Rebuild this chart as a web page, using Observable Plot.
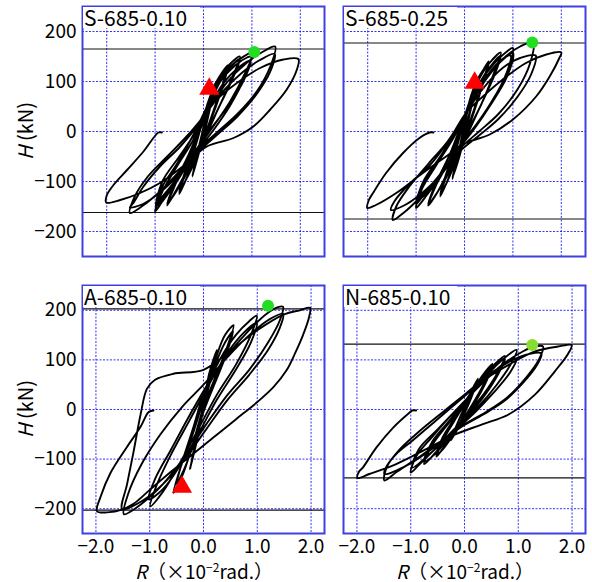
<!DOCTYPE html>
<html><head><meta charset="utf-8">
<script src="https://cdn.jsdelivr.net/npm/d3@7"></script>
<script src="https://cdn.jsdelivr.net/npm/@observablehq/plot@0.6"></script>
<style>
body{margin:0;background:#fff;font-family:"Noto Sans CJK JP","Noto Sans",sans-serif;color:#000}
#wrap{position:relative;width:592px;height:582px;overflow:hidden}
.pn{position:absolute}
.tag{position:absolute;background:#fff;font-size:21px;line-height:21px;height:21px;padding-left:1px;white-space:nowrap}
.ylab{position:absolute;font-size:20px;white-space:nowrap;transform:translate(-50%,-50%) rotate(-90deg)}
.xlab{position:absolute;font-size:19px;white-space:nowrap;transform:translate(-50%,-50%)}
.xlab sup{font-size:12px;vertical-align:7px;line-height:0}
</style></head><body><div id="wrap"></div>
<script>
// tick values
const xTicks = [-2, -1, 0, 1, 2];
const yTicks = [-200, -100, 0, 100, 200];
const panelNames = ["S-685-0.10", "S-685-0.25", "A-685-0.10", "N-685-0.10"];

// hysteresis paths [R (x10^-2 rad), H (kN)]
const loopS010 = [
[0,0],[0.1,55],[0.22,92],
[0.12,45],[0,-5],[-0.12,-50],[-0.23,-88],
[-0.12,-40],[0,8],[0.12,60],[0.23,95],
[0.12,40],[0,-10],[-0.12,-52],[-0.23,-90],
[-0.1,-35],[0.05,30],[0.22,90],[0.4,120],[0.5,132],
[0.38,90],[0.2,40],[0,-15],[-0.2,-60],[-0.38,-100],[-0.5,-125],
[-0.38,-85],[-0.2,-40],[0,25],[0.2,78],[0.38,112],[0.5,128],
[0.38,85],[0.2,35],[0,-20],[-0.2,-65],[-0.38,-100],[-0.5,-122],
[-0.38,-80],[-0.2,-35],[0,30],[0.2,85],[0.45,125],[0.75,150],
[0.6,110],[0.35,55],[0,-15],[-0.3,-70],[-0.55,-115],[-0.75,-148],
[-0.6,-110],[-0.3,-50],[0,20],[0.25,82],[0.5,122],[0.75,145],
[0.6,105],[0.3,45],[0,-20],[-0.3,-75],[-0.55,-118],[-0.75,-145],
[-0.6,-105],[-0.3,-45],[0,25],[0.2,80],[0.45,120],[0.75,145],[1.02,158],
[0.85,115],[0.55,60],[0.2,10],[-0.2,-45],[-0.55,-100],[-0.85,-140],[-1.0,-160],
[-0.85,-120],[-0.55,-70],[-0.2,-15],[0.1,45],[0.4,95],[0.75,130],[0.97,142],
[0.82,100],[0.5,50],[0.15,5],[-0.25,-50],[-0.6,-100],[-0.85,-130],[-0.97,-143],
[-0.85,-110],[-0.55,-65],[-0.2,-5],[0.1,55],[0.35,100],[0.65,132],[0.9,148],[0.98,150],
[0.85,108],[0.55,52],[0.2,2],[-0.2,-48],[-0.55,-98],[-0.85,-135],[-0.98,-150],
[-0.85,-100],[-0.5,-50],[-0.15,0],[0.15,50],[0.5,100],[0.9,138],[1.2,158],[1.48,170],
[1.38,130],[1.1,80],[0.7,35],[0.3,0],[-0.1,-35],[-0.5,-80],[-0.9,-120],[-1.25,-148],[-1.52,-163],
[-1.42,-130],[-1.15,-90],[-0.75,-50],[-0.35,-10],[0,30],[0.4,80],[0.8,118],[1.15,142],[1.47,155],
[1.38,120],[1.1,75],[0.7,30],[0.3,-5],[-0.1,-40],[-0.5,-85],[-0.9,-122],[-1.25,-145],[-1.52,-152],
[-1.45,-143],[-1.24,-110],[-0.9,-70],[-0.48,-30],[-0.14,10],[0.07,44],[0.34,70],[0.69,97],[1.17,127],[1.65,144],[1.96,145],
[1.93,124],[1.72,84],[1.38,44],[1.03,10],[0.62,-13],[0.07,-30],[-0.34,-63],[-0.9,-103],[-1.31,-123],[-1.72,-137],[-2.01,-142],
[-2.0,-128],[-1.86,-107],[-1.58,-77],[-1.24,-40],[-0.93,-2],[-0.86,-2]
];
const loopS025 = [
[0,0],[0.1,60],[0.25,100],
[0.12,45],[0,-5],[-0.12,-50],[-0.25,-95],
[-0.12,-40],[0,15],[0.12,65],[0.25,100],
[0.12,40],[0,-10],[-0.12,-55],[-0.25,-92],
[-0.1,-35],[0.05,35],[0.22,95],[0.4,125],[0.5,140],
[0.38,100],[0.2,45],[0,-10],[-0.2,-60],[-0.38,-105],[-0.5,-130],
[-0.38,-90],[-0.2,-45],[0,25],[0.2,82],[0.38,120],[0.5,136],
[0.38,95],[0.2,40],[0,-15],[-0.2,-65],[-0.38,-105],[-0.5,-127],
[-0.38,-85],[-0.2,-40],[0,30],[0.25,95],[0.5,135],[0.75,158],
[0.6,115],[0.35,55],[0,-12],[-0.3,-72],[-0.55,-120],[-0.75,-148],
[-0.6,-110],[-0.3,-55],[0,25],[0.3,95],[0.55,132],[0.75,152],
[0.6,108],[0.3,45],[0,-18],[-0.3,-78],[-0.55,-120],[-0.75,-145],
[-0.6,-105],[-0.3,-45],[0,30],[0.3,95],[0.6,135],[0.85,158],[1.0,167],
[0.88,120],[0.6,65],[0.25,15],[-0.15,-35],[-0.5,-90],[-0.8,-130],[-1.0,-153],
[-0.88,-115],[-0.6,-70],[-0.25,-15],[0.1,50],[0.45,105],[0.75,140],[1.0,157],
[0.88,110],[0.55,55],[0.2,5],[-0.2,-45],[-0.55,-95],[-0.8,-125],[-0.96,-137],
[-0.85,-105],[-0.55,-62],[-0.2,-8],[0.1,52],[0.4,102],[0.7,138],[0.95,152],
[0.85,112],[0.55,58],[0.2,8],[-0.2,-42],[-0.55,-92],[-0.85,-128],[-1.0,-145],
[-0.85,-100],[-0.5,-50],[-0.15,5],[0.15,60],[0.5,112],[0.85,150],[1.15,170],[1.42,178],
[1.35,135],[1.1,85],[0.7,35],[0.3,0],[-0.1,-35],[-0.5,-85],[-0.9,-130],[-1.25,-162],[-1.48,-177],
[-1.41,-150],[-1.14,-110],[-0.75,-65],[-0.35,-20],[0,32],[0.4,88],[0.8,128],[1.15,147],[1.47,152],
[1.38,115],[1.1,70],[0.7,25],[0.3,-8],[-0.1,-40],[-0.5,-88],[-0.9,-125],[-1.25,-148],[-1.52,-157],
[-1.45,-140],[-1.14,-105],[-0.72,-68],[-0.31,-16],[0.03,37],[0.38,70],[0.79,104],[1.27,137],[1.69,154],[2.0,158],
[1.96,147],[1.76,110],[1.48,70],[1.0,24],[0.52,-6],[0.03,-23],[-0.38,-50],[-0.86,-83],[-1.41,-123],[-1.83,-147],[-2.01,-153],
[-1.98,-138],[-1.89,-123],[-1.62,-83],[-1.27,-43],[-0.93,-13],[-0.72,-2],[-0.64,-2]
];
const loopA010 = [
[0,0],[0.1,70],[0.25,120],
[0.12,60],[0,10],[-0.12,-60],[-0.25,-120],
[-0.12,-55],[0,0],[0.12,65],[0.25,118],
[0.12,55],[0,5],[-0.12,-62],[-0.25,-118],
[-0.1,-40],[0.05,35],[0.25,110],[0.4,150],[0.56,170],
[0.42,120],[0.2,60],[0,5],[-0.2,-70],[-0.4,-135],[-0.56,-168],
[-0.42,-115],[-0.2,-50],[0,20],[0.2,85],[0.4,135],[0.55,158],
[0.42,110],[0.2,50],[0,-5],[-0.2,-75],[-0.4,-130],[-0.5,-150],
[-0.38,-100],[-0.2,-40],[0,30],[0.3,100],[0.6,150],[0.85,178],[0.99,189],
[0.88,150],[0.6,90],[0.25,30],[-0.1,-40],[-0.45,-110],[-0.75,-165],[-0.99,-195],
[-0.88,-155],[-0.6,-90],[-0.25,-20],[0.1,50],[0.45,115],[0.75,155],[0.99,175],
[0.88,135],[0.6,80],[0.25,20],[-0.1,-50],[-0.45,-115],[-0.75,-160],[-1.02,-181],
[-0.9,-140],[-0.6,-80],[-0.25,-10],[0.1,55],[0.45,110],[0.85,160],[1.2,195],[1.4,207],[1.48,207],
[1.42,180],[1.2,135],[0.85,80],[0.45,30],[0.05,-30],[-0.35,-95],[-0.75,-150],[-1.15,-190],[-1.48,-211],
[-1.4,-170],[-1.15,-110],[-0.8,-50],[-0.4,5],[0,50],[0.4,100],[0.8,145],[1.2,180],[1.48,193],
[1.42,165],[1.2,120],[0.85,70],[0.45,20],[0.05,-40],[-0.35,-100],[-0.75,-150],[-1.15,-185],[-1.51,-201],
[-1.42,-150],[-1.3,-85],[-1.17,-10],[-1.05,42],[-0.9,60],[-0.56,72],[0,80],[0.5,118],[1.0,160],[1.5,192],[1.79,200],[1.98,205],
[1.96,185],[1.85,150],[1.71,115],[1.55,80],[1.3,45],[1.0,15],[0.6,-20],[0.2,-55],[-0.2,-90],[-0.6,-125],[-1.0,-162],[-1.3,-190],[-1.55,-203],[-1.75,-207],[-1.98,-205],
[-1.91,-175],[-1.73,-128],[-1.42,-75],[-1.17,-35],[-1.02,-5],[-0.93,-2]
];
const loopN010 = [
[0,0],[0.1,30],[0.25,60],
[0.12,25],[0,-5],[-0.12,-35],[-0.25,-62],
[-0.12,-25],[0,5],[0.12,35],[0.25,62],
[0.12,22],[0,-8],[-0.12,-38],[-0.25,-60],
[-0.1,-20],[0.05,15],[0.25,55],[0.4,78],[0.52,92],
[0.4,60],[0.2,20],[0,-15],[-0.2,-45],[-0.4,-78],[-0.52,-95],
[-0.4,-62],[-0.2,-25],[0,10],[0.2,45],[0.4,75],[0.52,88],
[0.4,55],[0.2,15],[0,-18],[-0.2,-50],[-0.4,-80],[-0.52,-92],
[-0.4,-55],[-0.2,-20],[0,15],[0.3,60],[0.55,90],[0.75,108],
[0.62,75],[0.35,30],[0,-15],[-0.3,-55],[-0.55,-88],[-0.75,-110],
[-0.62,-75],[-0.35,-35],[0,10],[0.3,55],[0.55,85],[0.75,102],
[0.62,70],[0.35,25],[0,-20],[-0.3,-58],[-0.55,-90],[-0.75,-105],
[-0.6,-65],[-0.3,-25],[0,15],[0.35,60],[0.7,100],[0.97,120],
[0.88,95],[0.6,50],[0.25,5],[-0.15,-35],[-0.55,-80],[-0.85,-112],[-1.0,-127],
[-0.9,-95],[-0.6,-55],[-0.25,-12],[0.1,28],[0.5,70],[0.8,95],[0.97,103],
[0.85,75],[0.55,35],[0.2,-5],[-0.2,-45],[-0.6,-85],[-0.97,-117],
[-0.85,-80],[-0.5,-40],[-0.1,5],[0.3,50],[0.7,90],[1.1,118],[1.3,127],[1.46,127],
[1.38,100],[1.15,65],[0.8,25],[0.4,-5],[0,-30],[-0.45,-65],[-0.9,-100],[-1.25,-125],[-1.49,-143],
[-1.44,-115],[-1.2,-80],[-0.85,-45],[-0.4,-5],[0,30],[0.45,70],[0.9,100],[1.2,112],[1.43,113],
[1.35,90],[1.1,55],[0.75,18],[0.35,-10],[-0.1,-38],[-0.55,-75],[-0.95,-105],[-1.25,-122],[-1.49,-130],
[-1.46,-117],[-1.27,-90],[-0.97,-63],[-0.54,-23],[-0.04,23],[0.33,57],[0.82,90],[1.31,117],[1.74,127],[1.99,130],
[1.93,113],[1.68,77],[1.31,30],[0.82,-10],[0.33,-30],[-0.17,-50],[-0.66,-77],[-1.27,-110],[-1.77,-130],[-1.99,-138],
[-1.96,-125],[-1.89,-117],[-1.64,-77],[-1.33,-37],[-1.03,-7],[-0.97,-2],[-0.9,-2]
];

// max-strength reference lines (kN)
const refS010 = [165, -162];
const refS025 = [177, -175];
const refA010 = [203, -203];
const refN010 = [132, -138];
// markers [R, H]
const greenS010 = [[1.05, 159]];
const greenS025 = [[1.40, 178]];
const greenA010 = [[1.20, 209]];
const greenN010 = [[1.26, 130]];
const redS010 = [[0.12, 85]];
const redS025 = [[0.21, 97]];
const redA010 = [[-0.40, -156]];
const redN010 = [];

const wrap = document.getElementById("wrap");
const fmtX = d3.format(".1f");

function panel(o) {
  const svg = Plot.plot({
    width: o.w, height: o.h,
    marginLeft: o.ml, marginRight: o.mr, marginTop: 6, marginBottom: o.mb,
    style: {fontFamily: '"Noto Sans CJK JP","Noto Sans",sans-serif', fontSize: "19px", color: "#000", background: "transparent", overflow: "visible"},
    x: {domain: o.xdom, ticks: xTicks, tickFormat: fmtX, axis: o.showX ? "bottom" : null, tickSize: 0, tickPadding: 6, label: null},
    y: {domain: [-250, 250], ticks: yTicks, axis: o.showY ? "left" : null, tickSize: 0, tickPadding: 6, label: null},
    marks: [
      Plot.gridX(xTicks, {stroke: "#1010f0", strokeOpacity: 0.85, strokeWidth: 1, strokeDasharray: "2,1.5"}),
      Plot.gridY(yTicks, {stroke: "#1010f0", strokeOpacity: 0.85, strokeWidth: 1, strokeDasharray: "2,1.5"}),
      Plot.ruleY(o.ref, {stroke: "#111", strokeWidth: 1.2}),
      Plot.line(o.loop, {x: d => d[0], y: d => d[1], curve: "catmull-rom", stroke: "#000", strokeWidth: 1.9}),
      Plot.dot(o.green, {x: d => d[0], y: d => d[1], r: 6, fill: o.gcol, stroke: null}),
      Plot.dot(o.red, {x: d => d[0], y: d => d[1], r: 7.5, symbol: "triangle", fill: "#ff0000", stroke: null}),
      Plot.frame({stroke: "#4040e0", strokeWidth: 2})
    ]
  });
  svg.classList.add("pn");
  svg.style.left = o.left + "px";
  svg.style.top = o.top + "px";
  wrap.appendChild(svg);
  const tag = document.createElement("div");
  tag.className = "tag";
  tag.textContent = o.name;
  tag.style.left = (o.left + o.ml + 1) + "px";
  tag.style.top = (o.top + 7) + "px";
  tag.style.width = o.tagW + "px";
  wrap.appendChild(tag);
}

panel({left: 0, top: 0, w: 330, h: 262, ml: 82, mr: 6, mb: 6, xdom: [-2.5, 2.5], showX: false, showY: true,
  loop: loopS010, ref: refS010, green: greenS010, red: redS010, gcol: "#22dd22", name: panelNames[0], tagW: 116});
panel({left: 337, top: 0, w: 255, h: 262, ml: 6, mr: 7, mb: 6, xdom: [-2.5, 2.5], showX: false, showY: false,
  loop: loopS025, ref: refS025, green: greenS025, red: redS025, gcol: "#22dd22", name: panelNames[1], tagW: 112});
panel({left: 0, top: 279, w: 330, h: 284, ml: 82, mr: 6, mb: 30, xdom: [-2.25, 2.25], showX: true, showY: true,
  loop: loopA010, ref: refA010, green: greenA010, red: redA010, gcol: "#22dd22", name: panelNames[2], tagW: 116});
panel({left: 337, top: 279, w: 255, h: 284, ml: 6, mr: 7, mb: 30, xdom: [-2.25, 2.25], showX: true, showY: false,
  loop: loopN010, ref: refN010, green: greenN010, red: redN010, gcol: "#88dd33", name: panelNames[3], tagW: 112});

function addLab(cls, html, x, y) {
  const d = document.createElement("div");
  d.className = cls; d.innerHTML = html;
  d.style.left = x + "px"; d.style.top = y + "px";
  wrap.appendChild(d);
}
addLab("ylab", "<i>H</i> (kN)", 24, 131);
addLab("ylab", "<i>H</i> (kN)", 24, 409);
addLab("xlab", "<i>R</i>（×10<sup>−2</sup>rad.）", 204, 570);
addLab("xlab", "<i>R</i>（×10<sup>−2</sup>rad.）", 465, 570);
</script>
</body></html>
